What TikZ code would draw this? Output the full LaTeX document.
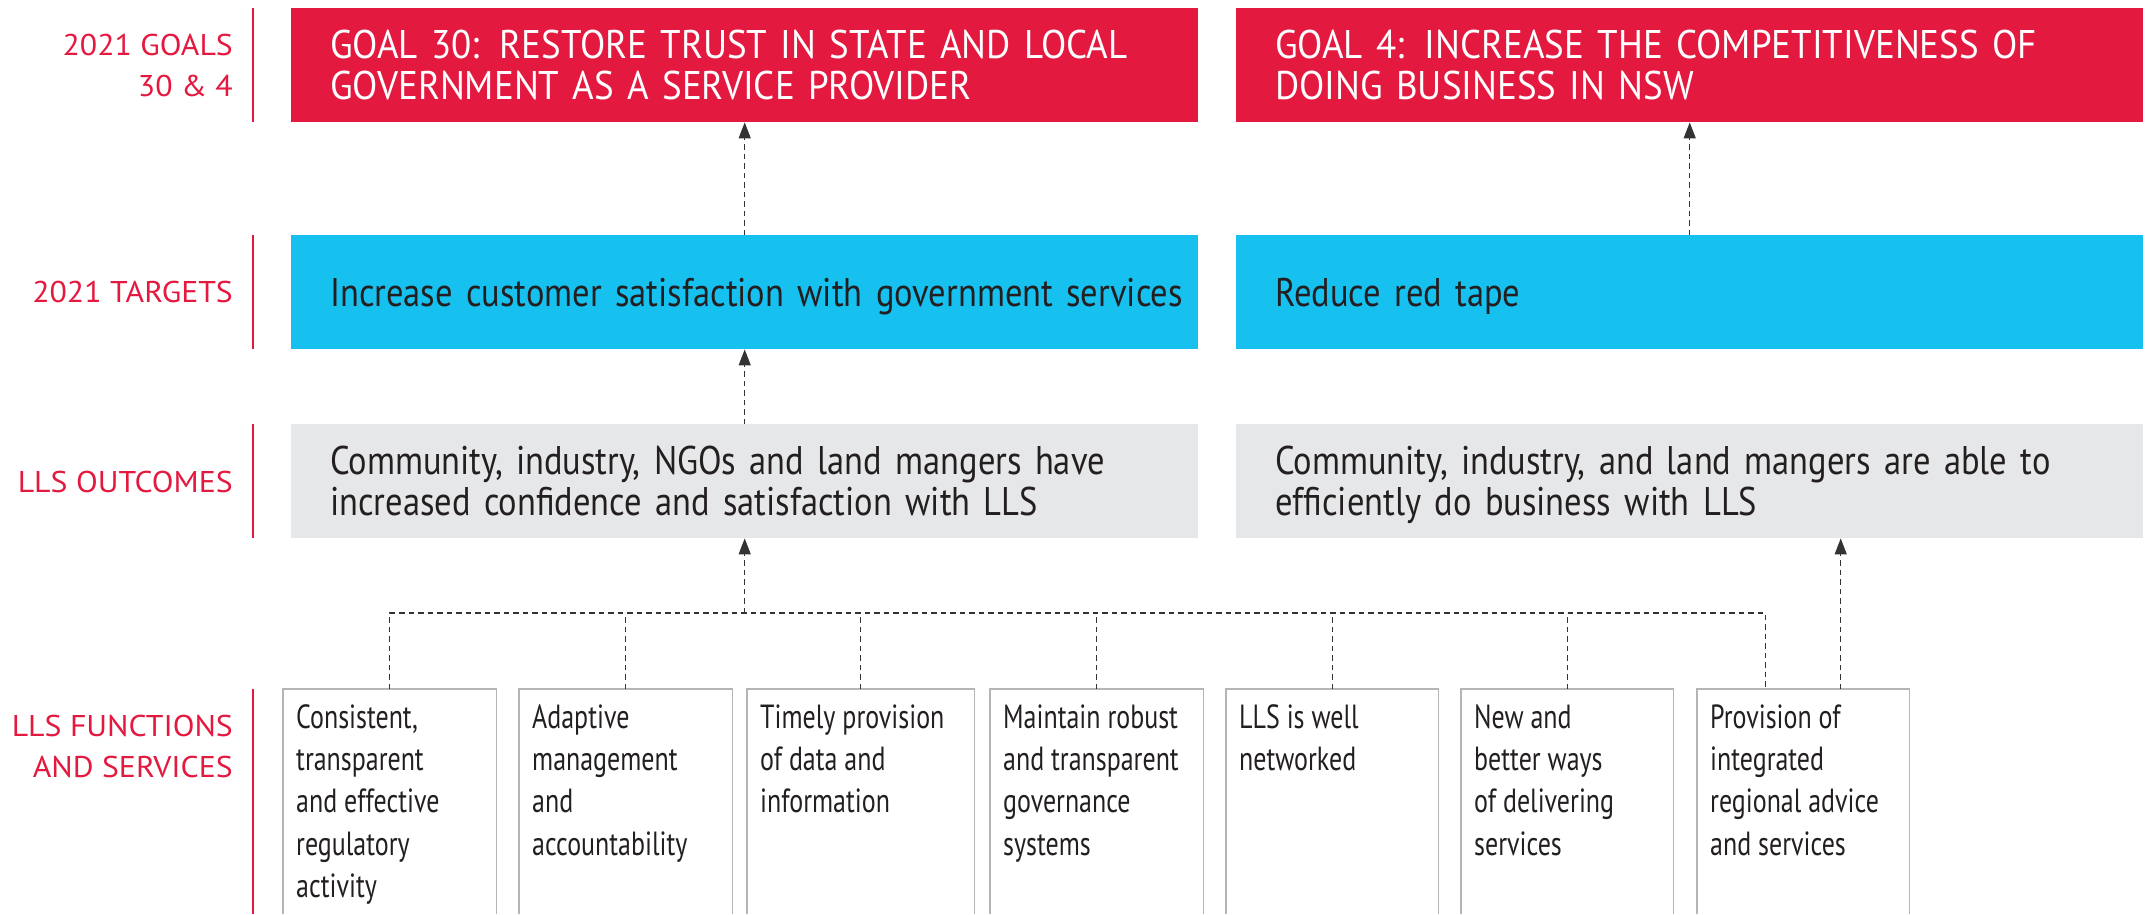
\documentclass[tikz,border=0pt]{standalone}
\usepackage{fontspec}
\setmainfont[FakeStretch=0.862]{PT Sans}
\newfontfamily\goalfont[FakeStretch=0.925]{PT Sans}
\newfontfamily\labelfont[FakeStretch=1.06]{PT Sans}
\newfontfamily\condfont[FakeStretch=0.775]{PT Sans}
\usetikzlibrary{arrows.meta,calc}
\definecolor{llsred}{HTML}{E4193F}
\definecolor{llscyan}{HTML}{16C1F0}
\definecolor{llsgrey}{HTML}{E6E7E8}
\definecolor{llstext}{HTML}{231F20}
\definecolor{llsline}{HTML}{B5B5B5}
\definecolor{llsdash}{HTML}{333333}
\tikzset{
  bigbox/.style={rectangle, anchor=north west, minimum width=907pt, minimum height=114pt,
    inner sep=0pt},
  goalbox/.style={bigbox, fill=llsred},
  targetbox/.style={bigbox, fill=llscyan},
  outcomebox/.style={bigbox, fill=llsgrey},
  boxtext/.style={anchor=west, inner sep=0pt, text width=870pt, align=left,
    font=\fontsize{40}{41}\selectfont, text height=28pt, text depth=41pt, text=llstext},
  goaltext/.style={boxtext, text=white, font=\goalfont\fontsize{40}{41}\selectfont},
  targettext/.style={boxtext, text depth=0pt},
  rowlabel/.style={anchor=east, align=right, inner sep=0pt, text=llsred,
    font=\labelfont\fontsize{30}{41}\selectfont},
  sepline/.style={draw=llsred, line width=1.3pt},
  fbox/.style={rectangle, anchor=north west, minimum height=225pt, inner sep=0pt},
  fboxline/.style={draw=llsline, line width=1.5pt},
  ftext/.style={anchor=north west, inner sep=0pt, align=left, text=llstext,
    font=\condfont\fontsize{33.5}{42.3}\selectfont},
  dl/.style={draw=llsdash, line width=1.3pt, dash pattern=on 5.5pt off 4pt},
  dasharrow/.style={dl, -{Triangle[length=16pt,width=12pt]}},
}
\begin{document}
\begin{tikzpicture}[x=1pt,y=-1pt]
\useasboundingbox (0,0) rectangle (2147,914);
\fill[white] (0,0) rectangle (2147,914);

% row labels and separators
\node[rowlabel] (lg) at (233,65) {2021 GOALS\\30 \& 4};
\node[rowlabel] (lt) at (233,292) {2021 TARGETS};
\node[rowlabel] (lo) at (233,481.5) {LLS OUTCOMES};
\node[rowlabel] (lf) at (233,746) {LLS FUNCTIONS\\AND SERVICES};
\coordinate (s1a) at (253,8);   \coordinate (s1b) at (253,122);
\coordinate (s2a) at (253,235); \coordinate (s2b) at (253,349);
\coordinate (s3a) at (253,424); \coordinate (s3b) at (253,538);
\coordinate (s4a) at (253,689); \coordinate (s4b) at (253,914);
\draw[sepline] (s1a) -- (s1b);
\draw[sepline] (s2a) -- (s2b);
\draw[sepline] (s3a) -- (s3b);
\draw[sepline] (s4a) -- (s4b);

% goals
\node[goalbox] (g30) at (291,8) {};
\node[goaltext] (g30t) at ([xshift=39pt]g30.west) {GOAL 30: RESTORE TRUST IN STATE AND LOCAL\\GOVERNMENT AS A SERVICE PROVIDER};
\node[goalbox] (g4) at (1236,8) {};
\node[goaltext] (g4t) at ([xshift=39pt]g4.west) {GOAL 4: INCREASE THE COMPETITIVENESS OF\\DOING BUSINESS IN NSW};

% targets
\node[targetbox] (t30) at (291,235) {};
\node[targettext] (t30t) at ([xshift=39pt]t30.west) {Increase customer satisfaction with government services};
\node[targetbox] (t4) at (1236,235) {};
\node[targettext] (t4t) at ([xshift=39pt]t4.west) {Reduce red tape};

% outcomes
\node[outcomebox] (o30) at (291,424) {};
\node[boxtext] (o30t) at ([xshift=39pt]o30.west) {Community, industry, NGOs and land mangers have\\increased confidence and satisfaction with LLS};
\node[outcomebox] (o4) at (1236,424) {};
\node[boxtext] (o4t) at ([xshift=39pt]o4.west) {Community, industry, and land mangers are able to\\efficiently do business with LLS};

% functions and services
\node[fbox, minimum width=213pt] (f1) at (283,689) {};
\node[fbox, minimum width=213pt] (f2) at (519,689) {};
\node[fbox, minimum width=227pt] (f3) at (747,689) {};
\node[fbox, minimum width=213pt] (f4) at (990,689) {};
\node[fbox, minimum width=212pt] (f5) at (1226,689) {};
\node[fbox, minimum width=212pt] (f6) at (1461,689) {};
\node[fbox, minimum width=212pt] (f7) at (1697,689) {};
\foreach \b in {f1,f2,f3,f4,f5,f6,f7}{
  \draw[fboxline] (\b.south west) |- (\b.north east) -- (\b.south east);
}
\node[ftext] (f1t) at (296,698) {\rule{0pt}{30pt}Consistent,\\transparent\\and effective\\regulatory\\activity};
\node[ftext] (f2t) at (532,698) {\rule{0pt}{30pt}Adaptive\\management\\and\\accountability};
\node[ftext] (f3t) at (760,698) {\rule{0pt}{30pt}Timely provision\\of data and\\information};
\node[ftext] (f4t) at (1003,698) {\rule{0pt}{30pt}Maintain robust\\and transparent\\governance\\systems};
\node[ftext] (f5t) at (1239,698) {\rule{0pt}{30pt}LLS is well\\networked};
\node[ftext] (f6t) at (1474,698) {\rule{0pt}{30pt}New and\\better ways\\of delivering\\services};
\node[ftext] (f7t) at (1710,698) {\rule{0pt}{30pt}Provision of\\integrated\\regional advice\\and services};

% connectors
\coordinate (bus) at (0,613);
\coordinate (f7in) at ([xshift=-37.5pt]f7.north);
\coordinate (f7out) at ([xshift=37.5pt]f7.north);
\coordinate (j30) at (o30.south |- bus);
\draw[dl] (f1.north) -- (f1.north |- bus) -- (f7in |- bus) -- (f7in);
\foreach \b in {f2,f3,f4,f5,f6}{
  \draw[dl] (\b.north) -- (\b.north |- bus);
}
\draw[dasharrow] (j30) -- (o30.south);
\draw[dasharrow] (f7out) -- (f7out |- o4.south);
\draw[dasharrow] (o30.north) -- (t30.south);
\draw[dasharrow] (t30.north) -- (g30.south);
\draw[dasharrow] (t4.north) -- (g4.south);
\end{tikzpicture}
\end{document}
